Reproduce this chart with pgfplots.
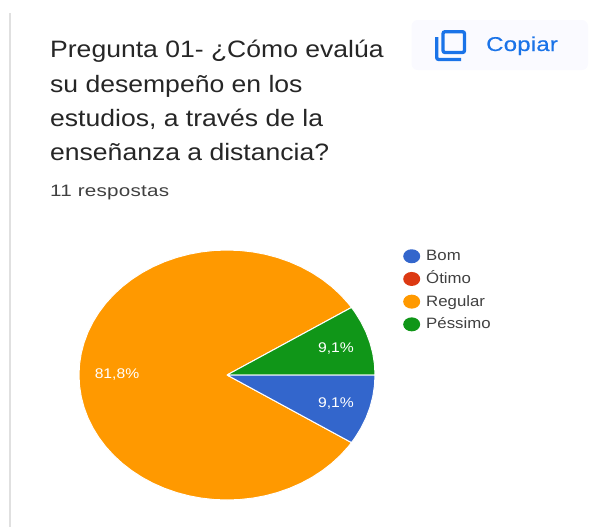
\documentclass[border=0pt]{standalone}
\usepackage{fontspec}
\setmainfont[FakeStretch=1.12]{Liberation Sans}
\newfontfamily\respfont[FakeStretch=1.25,LetterSpace=1.5]{Liberation Sans}
\newfontfamily\copyfont[FakeStretch=1.2,FakeBold=0.4,LetterSpace=1]{Liberation Sans}
\usepackage{pgfplots}
\usepackage{pgfplotstable}
\pgfplotsset{compat=1.18}

\definecolor{bom}{HTML}{3366CC}
\definecolor{otimo}{HTML}{DC3912}
\definecolor{regular}{HTML}{FF9900}
\definecolor{pessimo}{HTML}{109618}
\definecolor{azul}{HTML}{1A73E8}

% slices: angle (deg) and radius, one share is 1/11 of the turn
\pgfplotstableread[row sep=\\]{
a r \\ 0 0 \\ 0 1 \\ 5 1 \\ 10 1 \\ 15 1 \\ 20 1 \\ 25 1 \\ 30 1 \\ 32.73 1 \\ 0 0 \\
}\slicepessimo
\pgfplotstableread[row sep=\\]{
a r \\ 0 0 \\ 327.27 1 \\ 330 1 \\ 335 1 \\ 340 1 \\ 345 1 \\ 350 1 \\ 355 1 \\ 360 1 \\ 0 0 \\
}\slicebom
\pgfplotstableread[row sep=\\]{
a r \\ 0 0 \\ 32.73 1 \\ 35 1 \\ 40 1 \\ 45 1 \\ 50 1 \\ 55 1 \\ 60 1 \\ 65 1 \\ 70 1 \\ 75 1 \\ 80 1 \\ 85 1 \\
90 1 \\ 95 1 \\ 100 1 \\ 105 1 \\ 110 1 \\ 115 1 \\ 120 1 \\ 125 1 \\ 130 1 \\ 135 1 \\ 140 1 \\ 145 1 \\
150 1 \\ 155 1 \\ 160 1 \\ 165 1 \\ 170 1 \\ 175 1 \\ 180 1 \\ 185 1 \\ 190 1 \\ 195 1 \\ 200 1 \\ 205 1 \\
210 1 \\ 215 1 \\ 220 1 \\ 225 1 \\ 230 1 \\ 235 1 \\ 240 1 \\ 245 1 \\ 250 1 \\ 255 1 \\ 260 1 \\ 265 1 \\
270 1 \\ 275 1 \\ 280 1 \\ 285 1 \\ 290 1 \\ 295 1 \\ 300 1 \\ 305 1 \\ 310 1 \\ 315 1 \\ 320 1 \\ 325 1 \\
327.27 1 \\ 0 0 \\
}\sliceregular

\pgfplotsset{slice/.style={fill=#1,draw=white,line width=1pt,line join=round,forget plot}}

\begin{document}
\begin{tikzpicture}
\begin{axis}[
  hide axis,
  scale only axis,
  width=597pt,
  height=527pt,
  xmin=0, xmax=597,
  ymin=0, ymax=527,
  y dir=reverse,
  clip=false,
  legend image code/.code={\fill[#1,draw=none] (0pt,0pt) ellipse [x radius=8.5pt,y radius=7pt];},
  legend style={
    at={(axis cs:403,244.7)},anchor=north west,draw=none,fill=none,
    legend cell align=left,inner sep=0pt,
    /tikz/every odd column/.append style={column sep=6pt},
    font=\fontsize{15}{15}\selectfont\color{black!75},
    nodes={inner sep=0pt,text height=15.7pt,text depth=7pt}
  },
]

\addlegendimage{fill=bom}
\addlegendimage{fill=otimo}
\addlegendimage{fill=regular}
\addlegendimage{fill=pessimo}

\addplot[slice=regular] table[x expr={227+148*\thisrow{r}*cos(\thisrow{a})},y expr={375-125*\thisrow{r}*sin(\thisrow{a})}] {\sliceregular};
\addplot[slice=pessimo] table[x expr={227+148*\thisrow{r}*cos(\thisrow{a})},y expr={375-125*\thisrow{r}*sin(\thisrow{a})}] {\slicepessimo};
\addplot[slice=bom] table[x expr={227+148*\thisrow{r}*cos(\thisrow{a})},y expr={375-125*\thisrow{r}*sin(\thisrow{a})}] {\slicebom};

% left rule of the card
\addplot[black!12,line width=2pt,forget plot] coordinates {(10,13) (10,527)};

\legend{Bom,Ótimo,Regular,Péssimo}

% full page, the axis is hidden
\path (axis cs:0,0) rectangle (axis cs:597,527);

% data labels
\node[white,font=\fontsize{14}{14}\selectfont] at (axis cs:336,348.5) {9,1\%};
\node[white,font=\fontsize{14}{14}\selectfont] at (axis cs:336,403) {9,1\%};
\node[white,font=\fontsize{14}{14}\selectfont] at (axis cs:117,375) {81,8\%};

% heading
\begin{scope}[every node/.style={anchor=base west,inner sep=0pt,text=black!85,font=\fontsize{23.7}{23.7}\selectfont}]
\node at (axis cs:50,57) {Pregunta 01- ¿Cómo evalúa};
\node at (axis cs:50,92) {su desempeño en los};
\node at (axis cs:50,126) {estudios, a través de la};
\node at (axis cs:50,160) {enseñanza a distancia?};
\end{scope}
\node[anchor=base west,inner sep=0pt,text=black!75,font=\fontsize{16.5}{16.5}\selectfont\respfont] at (axis cs:50,196) {11 respostas};

% copy button
\fill[blue!2!white,rounded corners=6pt] (axis cs:411.5,20) rectangle (axis cs:588,70);
\draw[azul,line width=3.3pt,rounded corners=2pt] (axis cs:443,31.7) rectangle (axis cs:464.5,52.5);
\draw[azul,line width=3.3pt,rounded corners=2pt] (axis cs:436.7,37) -- (axis cs:436.7,59.5) -- (axis cs:461,59.5);
\node[anchor=base west,inner sep=0pt,text=azul,font=\fontsize{20}{20}\selectfont\copyfont] at (axis cs:486,51) {Copiar};

\end{axis}
\end{tikzpicture}
\end{document}
